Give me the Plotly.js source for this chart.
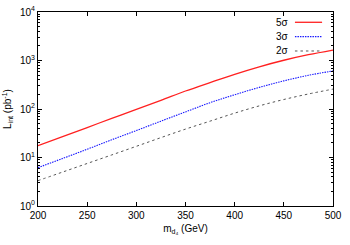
<!DOCTYPE html>
<html><head><meta charset="utf-8">
<script src="https://cdn.plot.ly/plotly-3.0.1.min.js"></script>
<style>body{margin:0;padding:0;}#c{width:350px;height:245px;}</style>
</head><body><div id="c"></div>
<script>
const mass = [200, 225, 250, 275, 300, 325, 350, 375, 400, 425, 450, 475, 500];
const sig5 = [17.5, 26.9, 41.5, 64.0, 98.4, 151, 235, 351, 519, 741, 1012, 1318, 1644];
const sig3 = [6.17, 9.55, 14.8, 23.2, 35.9, 56.2, 87.1, 135, 197, 279, 380, 495, 608];
const sig2 = [3.33, 5.01, 7.53, 11.3, 17.0, 25.7, 38.5, 56.2, 82.2, 116, 157, 204, 257];
const names = ['5σ', '3σ', '2σ'];
const xTickVals = [200, 250, 300, 350, 400, 450, 500];
const yTickVals = [1, 10, 100, 1000, 10000];
const yTickText = ['10<sup>0</sup>', '10<sup>1</sup>', '10<sup>2</sup>', '10<sup>3</sup>', '10<sup>4</sup>'];

const styles = [
  {color: '#ff2020', dash: 'solid', width: 1.3},
  {color: '#1a1aff', dash: '1.5px,1px', width: 1.1},
  {color: '#555555', dash: '2.5px,3px', width: 1.0}
];
const series = [sig5, sig3, sig2];
const traces = series.map((s, i) => ({
  x: mass, y: s, name: names[i], type: 'scatter', mode: 'lines',
  line: Object.assign({shape: 'spline', smoothing: 1.0}, styles[i]),
  showlegend: false
}));

const annotations = [];
const shapes = [];
names.forEach((n, i) => {
  const yy = 0.947 - i * 0.074;
  annotations.push({xref: 'paper', yref: 'paper', x: 0.856, y: yy, text: n, showarrow: false,
    xanchor: 'right', yanchor: 'middle', font: {size: 10, color: '#000'}});
  shapes.push({type: 'line', xref: 'paper', yref: 'paper', x0: 0.871, x1: 0.963, y0: yy, y1: yy,
    line: {color: styles[i].color, dash: styles[i].dash, width: styles[i].width}});
});

const layout = {
  width: 350, height: 245,
  margin: {l: 38, r: 17, t: 12, b: 39},
  paper_bgcolor: '#fff', plot_bgcolor: '#fff',
  font: {family: 'Liberation Sans, Arial, sans-serif', size: 10, color: '#000'},
  xaxis: {
    range: [200, 500], tickvals: xTickVals,
    ticks: 'inside', ticklen: 4, tickcolor: '#000', showgrid: false, zeroline: false,
    showline: true, linecolor: '#000', linewidth: 1, mirror: 'ticks',
    title: {text: 'm<sub>d₄</sub> (GeV)', font: {size: 10}, standoff: 4},
    tickfont: {size: 10}
  },
  yaxis: {
    type: 'log', range: [0, 4], tickvals: yTickVals, ticktext: yTickText,
    ticks: 'inside', ticklen: 4, tickcolor: '#000', showgrid: false, zeroline: false,
    showline: true, linecolor: '#000', linewidth: 1, mirror: 'ticks',
    minor: {ticks: 'inside', ticklen: 2, tickcolor: '#000', dtick: 'D1', showgrid: false},
    title: {text: 'L<sub>int</sub> (pb<sup>-1</sup>)', font: {size: 10}, standoff: 6},
    tickfont: {size: 10}
  },
  annotations: annotations,
  shapes: shapes,
  showlegend: false
};
Plotly.newPlot('c', traces, layout, {staticPlot: true, displayModeBar: false});
</script></body></html>
